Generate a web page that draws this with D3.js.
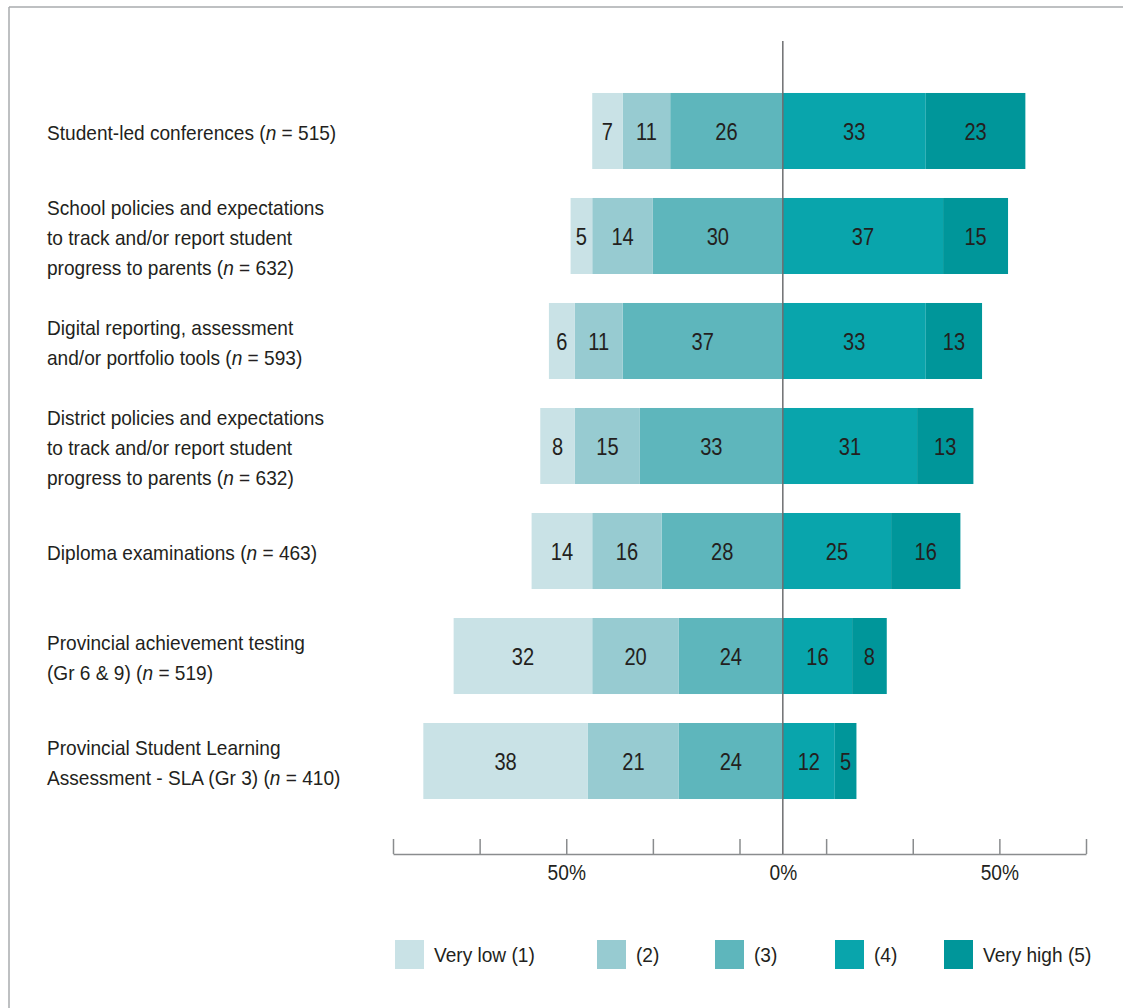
<!DOCTYPE html>
<html>
<head>
<meta charset="utf-8">
<script src="https://cdn.jsdelivr.net/npm/d3@7"></script>
<style>
  html, body { margin: 0; padding: 0; background: #ffffff; }
  svg { display: block; }
  text { font-family: "Liberation Sans Narrow", "Liberation Sans", Arial, sans-serif; fill: #231f20; }
</style>
</head>
<body>
<svg id="chart" width="1123" height="1008"></svg>
<script>
// ---- Data ----
const categories = [
  "Student-led conferences",
  "School policies and expectations",
  "Digital reporting, assessment",
  "District policies and expectations",
  "Diploma examinations",
  "Provincial achievement testing",
  "Provincial Student Learning Assessment"
];
const categoryLines = [
  ["Student-led conferences ({n} = 515)"],
  ["School policies and expectations", "to track and/or report student", "progress to parents ({n} = 632)"],
  ["Digital reporting, assessment", "and/or portfolio tools ({n} = 593)"],
  ["District policies and expectations", "to track and/or report student", "progress to parents ({n} = 632)"],
  ["Diploma examinations ({n} = 463)"],
  ["Provincial achievement testing", "(Gr 6 & 9) ({n} = 519)"],
  ["Provincial Student Learning", "Assessment - SLA (Gr 3) ({n} = 410)"]
];
const seriesNames = ["Very low (1)", "(2)", "(3)", "(4)", "Very high (5)"];
const veryLow  = [7, 5, 6, 8, 14, 32, 38];
const low2     = [11, 14, 11, 15, 16, 20, 21];
const mid3     = [26, 30, 37, 33, 28, 24, 24];
const high4    = [33, 37, 33, 31, 25, 16, 12];
const veryHigh = [23, 15, 13, 13, 16, 8, 5];
const tickValues = [-90, -70, -50, -30, -10, 0, 10, 30, 50, 70];
const tickLabels = {"-50": "50%", "0": "0%", "50": "50%"};

// ---- Styles / layout ----
const colors = ["#c9e2e6", "#97cbd1", "#5eb6bc", "#09a5ac", "#00969a"];
const svg = d3.select("#chart");
const W = 1123, H = 1008;
const labelSX = 0.955;   // horizontal squeeze to mimic the condensed face
const valueSX = 0.82;

// frame
svg.append("line").attr("x1", 9).attr("x2", W).attr("y1", 7).attr("y2", 7)
  .attr("stroke", "#a9abae").attr("stroke-width", 1.5);
svg.append("line").attr("x1", 9).attr("x2", 9).attr("y1", 7).attr("y2", H)
  .attr("stroke", "#a9abae").attr("stroke-width", 1.5);

const x = d3.scaleLinear().domain([-90, 70]).range([393, 1086]);
const y = d3.scaleBand().domain(categories).range([64, 828]).padding(0.276);

// build segments: negative side (3),(2),(1) outward from zero; positive (4),(5)
const seriesVals = [veryLow, low2, mid3, high4, veryHigh];
const segments = [];
categories.forEach((c, i) => {
  let neg = 0;
  [2, 1, 0].forEach(s => {
    const v = seriesVals[s][i];
    segments.push({cat: c, s, v, x0: -(neg + v), x1: -neg});
    neg += v;
  });
  let pos = 0;
  [3, 4].forEach(s => {
    const v = seriesVals[s][i];
    segments.push({cat: c, s, v, x0: pos, x1: pos + v});
    pos += v;
  });
});

const bars = svg.append("g");
bars.selectAll("rect").data(segments).join("rect")
  .attr("x", d => x(d.x0))
  .attr("width", d => x(d.x1) - x(d.x0))
  .attr("y", d => y(d.cat))
  .attr("height", y.bandwidth())
  .attr("fill", d => colors[d.s]);

bars.selectAll("text").data(segments).join("text")
  .attr("transform", d => `translate(${(x(d.x0) + x(d.x1)) / 2},${y(d.cat) + y.bandwidth() / 2 + 8.8}) scale(${valueSX},1)`)
  .attr("text-anchor", "middle")
  .style("font-size", "24.5px")
  .text(d => d.v);

// category labels
const lab = svg.append("g");
categories.forEach((c, i) => {
  const lines = categoryLines[i];
  const cy = y(c) + y.bandwidth() / 2;
  lines.forEach((ln, j) => {
    const ty = cy + 9 + (j - (lines.length - 1) / 2) * 30;
    const t = lab.append("text")
      .attr("transform", `translate(47,${ty}) scale(${labelSX},1)`)
      .style("font-size", "20px");
    const parts = ln.split("{n}");
    parts.forEach((p, k) => {
      if (k > 0) t.append("tspan").style("font-style", "italic").text("n");
      t.append("tspan").text(p);
    });
  });
});

// axis
const axis = d3.axisBottom(x)
  .tickValues(tickValues)
  .tickSize(-15)
  .tickSizeOuter(0)
  .tickPadding(10)
  .tickFormat(d => tickLabels[String(d)] || "");
const ag = svg.append("g").attr("transform", "translate(0,854)").call(axis);
ag.select(".domain").attr("stroke", "#8a8c8e").attr("stroke-width", 1.5);
ag.selectAll(".tick line").attr("stroke", "#8a8c8e").attr("stroke-width", 1.5)
  .attr("opacity", d => d === 0 ? 0 : 1);
ag.selectAll(".tick text").style("font-size", "22px").attr("fill", "#231f20")
  .attr("transform", `scale(0.87,1)`)
  .style("font-family", "'Liberation Sans Narrow', 'Liberation Sans', Arial, sans-serif");

// zero line
svg.append("line")
  .attr("x1", x(0)).attr("x2", x(0))
  .attr("y1", 41).attr("y2", 854)
  .attr("stroke", "#6d6e71").attr("stroke-width", 1.5);

// legend
const legendX = [395, 597, 715, 835, 944];
const lg = svg.append("g");
seriesNames.forEach((n, i) => {
  lg.append("rect").attr("x", legendX[i]).attr("y", 940).attr("width", 29).attr("height", 29)
    .attr("fill", colors[i]);
  lg.append("text")
    .attr("transform", `translate(${legendX[i] + 39},962) scale(${labelSX},1)`)
    .style("font-size", "20px").text(n);
});
</script>
</body>
</html>
